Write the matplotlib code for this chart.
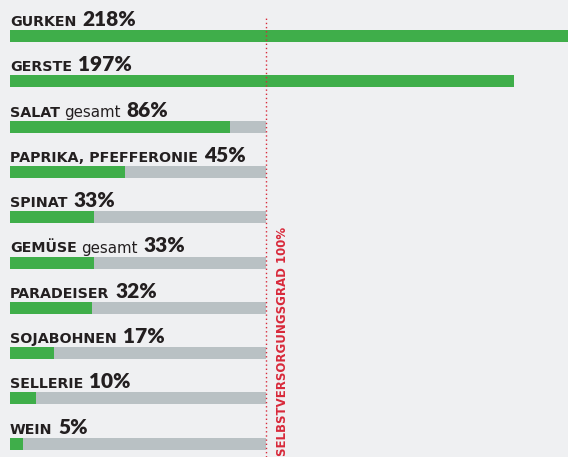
import matplotlib.pyplot as plt

names = ["GURKEN", "GERSTE", "SALAT", "PAPRIKA, PFEFFERONIE", "SPINAT",
         "GEMÜSE", "PARADEISER", "SOJABOHNEN", "SELLERIE", "WEIN"]
suffix = ["", "", "gesamt", "", "", "gesamt", "", "", "", ""]
values = [218, 197, 86, 45, 33, 33, 32, 17, 10, 5]
target = 100

BG = "#eff0f2"
GREEN = "#3fae4a"
GREY = "#b9c1c4"
RED = "#d8293a"
INK = "#231f20"

W, H = 568, 457
fig = plt.figure(figsize=(W / 100, H / 100), dpi=100, facecolor=BG)
ax = fig.add_axes([10 / W, 0, (W - 10) / W, 1])
ax.set_facecolor(BG)

row = 45.3
top = 36
ax.set_xlim(0, 218)
ax.set_ylim((H - top) / row, -top / row)
bh = 12 / row

for i, v in enumerate(values):
    if v < target:
        ax.barh(i, target, height=bh, color=GREY, left=0)
    ax.barh(i, v, height=bh, color=GREEN, left=0)

ax.axvline(target, ymax=(H - 18) / H, color=RED, lw=1, ls=(0, (1, 2)))
ax.axis("off")

fig.canvas.draw()
r = fig.canvas.get_renderer()
for i, (n, s, v) in enumerate(zip(names, suffix, values)):
    xd, yd = ax.transData.transform((0, i - bh / 2))
    yb = yd + 4
    t = fig.text(xd / W, yb / H, n, fontsize=10.3, fontweight="bold",
                 family="DejaVu Sans", color=INK, va="baseline")
    x = t.get_window_extent(r).x1
    if s:
        t2 = fig.text((x + 4) / W, yb / H, s, fontsize=10.8,
                      family="DejaVu Sans", color=INK, va="baseline")
        x = t2.get_window_extent(r).x1
    fig.text((x + 6) / W, yb / H, f"{v}%", fontsize=15, fontweight="heavy",
             family="Lato", color=INK, va="baseline")

fig.text(283 / W, (H - 227) / H, "SELBSTVERSORGUNGSGRAD 100%", rotation=90,
         fontsize=8.5, fontweight="bold", family="DejaVu Sans", color=RED,
         ha="center", va="top")

fig.savefig("out.png", dpi=100, facecolor=BG)
